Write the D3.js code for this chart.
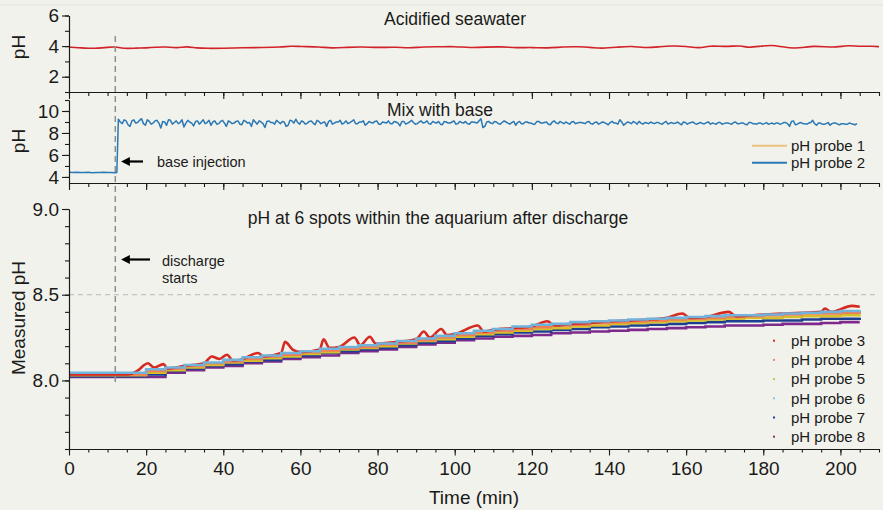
<!DOCTYPE html>
<html><head><meta charset="utf-8">
<script src="https://cdn.jsdelivr.net/npm/d3@7"></script>
<style>
html,body{margin:0;padding:0;background:#f2f2ec;}
svg{display:block;font-family:"Liberation Sans",Arial,Helvetica,sans-serif;}
</style></head>
<body>
<svg id="chart" width="883" height="510"></svg>
<script>
// ---------------- DATA ----------------
const xTicksMajor = [0,20,40,60,80,100,120,140,160,180,200];
const topYTicks = [2,4,6];
const midYTicks = [4,6,8,10];
const botYTicks = [8.0,8.5,9.0];

// Top panel: acidified seawater (pH) sampled times/values
const seaTimes  = [0,2.5,5,7.5,10,12,14,17.5,20,23,25,28,30.5,33,36,40,45,50,55,57.5,60,65,68,72,76,80,85,88,92,96,100,104,108,112,116,120,124,128,132,136,138,142,146,149,153,156,160,163.5,166,170,174.5,175.5,179,182,185,188,191,193,196,199,202,205,208.5,210];
const seaValues = [3.93,3.90,3.85,3.86,3.92,3.97,3.83,3.87,3.88,3.93,3.96,3.86,3.99,3.87,3.85,3.86,3.89,3.91,3.93,4.01,3.97,3.95,3.86,3.92,3.95,3.90,3.94,3.86,3.96,3.95,3.98,3.89,3.93,3.97,3.88,3.92,3.86,3.95,3.97,3.90,3.85,3.92,4.01,3.87,3.95,4.02,4.00,3.84,4.04,3.95,4.05,3.89,3.98,4.08,3.95,3.84,3.93,4.00,3.96,3.92,4.06,3.97,4.00,3.96];

// Middle panel: pH probe 2 (mix with base)
const preTimes  = [0,1,2,3,4,5,6,7,8,9,10,11,12,12.4];
const preValues = [4.42,4.40,4.43,4.41,4.40,4.42,4.39,4.41,4.40,4.42,4.41,4.40,4.38,4.40];
const postStartA = 12.8; // readings every minute from here
const postValuesA = [
 9.25,8.85,9.1,8.6,9.2,8.95,9.3,8.7,9.05,8.9,
 9.15,8.45,9.0,9.2,8.8,9.1,8.95,8.55,9.15,8.9,
 9.05,8.8,9.2,8.95,8.7,9.1,8.85,9.15,8.6,9.0,
 8.9,9.1,8.75,9.05,8.95,9.2,8.8,9.0,8.5,9.1,
 8.95,9.15,8.85,9.0,8.7,9.1,9.25,8.8,9.0,8.9,
 9.1,8.75,9.05,8.95,8.6,9.15,8.9,9.0,8.8,9.1,
 8.95,9.2,8.85,9.0,8.7,9.05,8.9,9.1,8.8,8.95,
 9.1,8.85,9.0,8.65,9.05,8.9,9.15,8.8,9.0,8.9,
 9.1,8.8,8.95,9.05,8.75,9.0,8.9,9.1,8.85,8.95,
 9.05,8.8,9.0,8.9,9.3,8.6,9.05,8.85,9.0,8.8,
 9.1,8.9,8.95,8.7,9.05,8.85,9.0,8.9,8.8,9.05,
 8.9,9.0,8.75,9.1,8.85,8.95,9.0,8.8,9.05,8.9,
 8.95,8.85,9.05,8.8,9.0,8.9,8.95,8.75,9.05,8.9,
 9.2,8.7,9.0,8.85,8.95,9.05,8.8,8.9,9.0,8.85,
 8.95,8.8,9.05,8.9,8.85,9.0,8.75,8.95,8.9,9.0,
 8.8,8.95,8.85,9.0,8.9,8.8,8.95,8.85,8.9,8.8,
 9.0,8.85,8.9,8.75,8.95,8.85,8.9,8.8,8.95,8.85,
 8.8,8.9,8.85,8.95,8.6,9.1,8.8,8.95,8.85,8.9,
 9.15,8.7,8.9,8.8,8.95,8.85,8.9,8.75,8.85,8.8,
 8.85,8.75];
const postStartB = 13.3; // interleaved readings, every minute from here
const postValuesB = [
 9.0,9.2,8.75,9.1,8.9,9.15,8.85,9.2,8.8,9.1,
 8.9,9.05,8.7,9.15,8.95,8.85,9.2,8.9,9.0,8.65,
 9.1,9.0,8.85,9.15,9.0,8.8,9.05,8.9,9.1,8.85,
 9.05,8.8,9.15,8.9,8.6,9.0,9.1,8.85,9.05,8.95,
 8.8,9.0,9.05,8.6,9.15,8.9,8.95,9.1,8.8,9.05,
 8.9,9.15,8.85,9.0,9.05,8.8,9.0,9.15,8.9,8.85,
 9.05,8.85,9.0,9.1,8.85,8.95,9.05,8.8,9.0,8.9,
 8.85,9.05,8.9,9.05,8.8,9.0,8.95,8.85,9.1,8.95,
 8.85,9.05,8.9,8.8,9.05,8.9,9.0,8.8,9.05,8.9,
 8.85,9.0,8.95,9.1,8.5,9.0,8.9,9.05,8.85,8.95,
 9.0,8.8,9.05,8.95,8.85,9.0,8.9,8.8,9.05,8.9,
 8.95,8.8,9.0,8.9,9.05,8.85,8.9,9.0,8.85,8.95,
 8.9,9.0,8.85,8.95,8.8,9.0,8.85,8.95,8.9,8.8,
 9.0,8.85,8.95,9.05,8.8,8.9,8.95,8.85,8.9,8.95,
 8.85,8.95,8.8,8.95,8.9,8.85,9.0,8.8,8.95,8.85,
 8.9,8.85,8.95,8.8,8.85,8.95,8.8,8.9,8.85,8.95,
 8.85,8.9,8.8,8.95,8.85,8.8,8.9,8.85,8.8,8.9,
 8.9,8.8,8.95,8.85,9.05,8.75,8.9,8.85,8.8,8.95,
 8.85,8.9,8.8,8.85,8.7,8.9,8.8,8.85,8.8,8.9,
 8.8,8.85];

// Bottom panel: probes 3-8
const gridTimes = [0,5,10,15,20,25,30,35,40,45,50,55,60,65,70,75,80,85,90,95,100,105,110,115,120,125,130,135,140,145,150,155,160,165,170,175,180,185,190,195,200,205];
const probe4 = [8.035,8.035,8.035,8.035,8.055,8.07,8.085,8.10,8.11,8.125,8.14,8.15,8.165,8.175,8.185,8.195,8.21,8.22,8.235,8.25,8.265,8.28,8.29,8.30,8.31,8.32,8.325,8.335,8.34,8.345,8.35,8.355,8.36,8.365,8.37,8.375,8.38,8.385,8.39,8.39,8.395,8.40];
const probe5 = [8.03,8.03,8.03,8.03,8.045,8.06,8.075,8.09,8.105,8.115,8.13,8.14,8.155,8.165,8.18,8.19,8.20,8.215,8.23,8.24,8.255,8.27,8.28,8.29,8.30,8.305,8.315,8.32,8.33,8.335,8.34,8.345,8.35,8.355,8.36,8.365,8.365,8.37,8.375,8.375,8.38,8.385];
const probe6 = [8.045,8.045,8.045,8.045,8.065,8.075,8.09,8.105,8.12,8.135,8.145,8.16,8.17,8.185,8.195,8.205,8.215,8.23,8.245,8.26,8.275,8.29,8.30,8.315,8.325,8.33,8.34,8.345,8.35,8.355,8.36,8.365,8.37,8.375,8.38,8.38,8.385,8.39,8.395,8.40,8.405,8.41];
const probe7 = [8.025,8.025,8.025,8.025,8.035,8.055,8.07,8.085,8.095,8.11,8.12,8.135,8.145,8.16,8.17,8.18,8.19,8.205,8.22,8.23,8.245,8.26,8.27,8.28,8.285,8.295,8.30,8.31,8.315,8.32,8.325,8.33,8.335,8.34,8.345,8.345,8.35,8.35,8.355,8.36,8.36,8.365];
const probe8 = [8.02,8.02,8.02,8.02,8.02,8.045,8.06,8.075,8.085,8.10,8.11,8.125,8.135,8.145,8.16,8.17,8.18,8.195,8.21,8.22,8.235,8.245,8.255,8.26,8.265,8.275,8.28,8.285,8.29,8.295,8.30,8.305,8.31,8.315,8.32,8.32,8.325,8.33,8.33,8.335,8.34,8.34];
const probe3Times  = [0,15,18,19.5,20.5,22,24.5,25.5,30,35,37,39,41,42.5,45,49,50.5,55,56,58,60,65,66,67.5,70,74,75.5,78,79.5,85,90,92,93.5,96.5,98,100,106,107.5,110,115,120,124,126,130,135,140,145,150,155,159,161,165,171,173,180,185,190,195,196,197.5,203,205];
const probe3Values = [8.035,8.035,8.06,8.09,8.10,8.075,8.095,8.07,8.085,8.10,8.14,8.125,8.15,8.115,8.125,8.16,8.14,8.16,8.225,8.18,8.165,8.18,8.24,8.19,8.195,8.25,8.205,8.255,8.215,8.225,8.24,8.285,8.25,8.30,8.265,8.27,8.32,8.285,8.295,8.305,8.315,8.345,8.32,8.33,8.335,8.345,8.35,8.355,8.365,8.39,8.365,8.37,8.40,8.375,8.385,8.39,8.395,8.40,8.42,8.40,8.435,8.43];

const probeNames  = ["pH probe 3","pH probe 4","pH probe 5","pH probe 6","pH probe 7","pH probe 8"];
const probeColors = ["#d42a22","#ee7f55","#d6bf2a","#72b3dc","#1d3f8f","#7d2a8c"];
const legendDotColors = ["#d42a22","#ee8a70","#c8c24a","#8cc4e0","#1d3f8f","#8a3570"];

// ---------------- DRAW ----------------
const svg = d3.select("#chart");
const ink = "#1a1a1a";
const font = "Liberation Sans, Arial, sans-serif";
const x = d3.scaleLinear().domain([0,210]).range([69,879]);
const yTop = d3.scaleLinear().domain([1,6]).range([92,15.5]);
const yMid = d3.scaleLinear().domain([3.45,11]).range([183,100]);
const yBot = d3.scaleLinear().domain([7.6,9.0]).range([449,209]);

svg.append("line").attr("x1",0).attr("x2",883).attr("y1",5).attr("y2",5).attr("stroke","#e3e3dd");

const minorX = d3.range(0,211,5);
function xAxis(y, labels){
  const gMinor = svg.append("g").attr("transform",`translate(0,${y})`)
    .call(d3.axisBottom(x).tickValues(minorX).tickSize(labels?3.5:4).tickSizeOuter(0).tickFormat(""));
  const gMajor = svg.append("g").attr("transform",`translate(0,${y})`)
    .call(d3.axisBottom(x).tickValues(xTicksMajor).tickSize(labels?6.5:7).tickSizeOuter(0).tickPadding(6)
      .tickFormat(labels? d3.format("d") : ""));
  [gMinor,gMajor].forEach(g=>{
    g.selectAll("path,line").attr("stroke",ink).attr("stroke-width",1.1);
    g.selectAll("text").attr("fill",ink).attr("font-size",19).attr("font-family",font);
  });
}
function yAxis(scale, major, minor, fmt){
  const gMinor = svg.append("g").attr("transform","translate(69,0)")
    .call(d3.axisLeft(scale).tickValues(minor).tickSize(4).tickSizeOuter(0).tickFormat(""));
  const gMajor = svg.append("g").attr("transform","translate(69,0)")
    .call(d3.axisLeft(scale).tickValues(major).tickSize(7).tickSizeOuter(0).tickPadding(3).tickFormat(fmt));
  [gMinor,gMajor].forEach(g=>{
    g.selectAll("path,line").attr("stroke",ink).attr("stroke-width",1.1);
    g.selectAll("text").attr("fill",ink).attr("font-size",19).attr("font-family",font);
  });
}

// reference line at pH 8.5
svg.append("line").attr("x1",x(0)).attr("x2",x(210)).attr("y1",yBot(8.5)).attr("y2",yBot(8.5))
  .attr("stroke","#c4c4c0").attr("stroke-width",1.2).attr("stroke-dasharray","5,4");

// Top panel series
const seaData = seaTimes.map((t,i)=>[t,seaValues[i]]);
svg.append("path").datum(seaData)
  .attr("d", d3.line().x(d=>x(d[0])).y(d=>yTop(d[1])).curve(d3.curveBasis))
  .attr("fill","none").attr("stroke","#d2222a").attr("stroke-width",1.6);

// Middle panel series (merge the two interleaved reading sets in time order)
const postData = postValuesA.map((v,i)=>[postStartA+i, v])
  .concat(postValuesB.map((v,i)=>[postStartB+i, v]))
  .sort((a,b)=>a[0]-b[0]);
const blueData = preTimes.map((t,i)=>[t,preValues[i]]).concat(postData);
svg.append("path").datum(blueData)
  .attr("d", d3.line().x(d=>x(d[0])).y(d=>yMid(d[1])))
  .attr("fill","none").attr("stroke","#2a78b4").attr("stroke-width",1.5).attr("stroke-linejoin","round");

// Bottom panel series
const gridSeries = {4:probe4,5:probe5,6:probe6,7:probe7,8:probe8};
const stepLine = d3.line().x(d=>x(d[0])).y(d=>yBot(d[1])).curve(d3.curveStepAfter);
const bumpLine = d3.line().x(d=>x(d[0])).y(d=>yBot(d[1])).curve(d3.curveMonotoneX);
const order = [8,7,5,4,3,6];
order.forEach(p=>{
  const data = p===3 ? probe3Times.map((t,i)=>[t,probe3Values[i]])
                     : gridTimes.map((t,i)=>[t,gridSeries[p][i]]);
  svg.append("path").datum(data).attr("d", p===3 ? bumpLine : stepLine)
    .attr("fill","none").attr("stroke",probeColors[p-3]).attr("stroke-width",2.6);
});

// Axes
xAxis(92,false); xAxis(183,false); xAxis(449,true);
yAxis(yTop, topYTicks, [1,2,3,4,5,6], d3.format("d"));
yAxis(yMid, midYTicks, [4,5,6,7,8,9,10,11], d3.format("d"));
yAxis(yBot, botYTicks, d3.range(76,91).map(d=>d/10), d3.format(".1f"));

// vertical dashed line at injection / discharge
svg.append("line").attr("x1",x(12)).attr("x2",x(12)).attr("y1",36).attr("y2",383)
  .attr("stroke","#8e8e8e").attr("stroke-width",1.5).attr("stroke-dasharray","6,4");

// Axis titles
function rotLabel(txt, y){
  svg.append("text").attr("transform",`translate(25,${y}) rotate(-90)`).attr("text-anchor","middle")
    .attr("font-size",19).attr("fill",ink).attr("font-family",font).text(txt);
}
rotLabel("pH",47); rotLabel("pH",141); rotLabel("Measured pH",318);
svg.append("text").attr("x",474).attr("y",504).attr("text-anchor","middle").attr("font-size",19)
  .attr("fill",ink).attr("font-family",font).text("Time (min)");

// Panel titles
[["Acidified seawater",455,25],["Mix with base",440,116],["pH at 6 spots within the aquarium after discharge",438,224]]
 .forEach(([t,cx,cy])=>svg.append("text").attr("x",cx).attr("y",cy).attr("text-anchor","middle")
   .attr("font-size",17.5).attr("fill",ink).attr("font-family",font).text(t));

// Arrows + annotations
svg.append("defs").append("marker").attr("id","ah").attr("viewBox","0 0 10 10").attr("refX",1).attr("refY",5)
  .attr("markerWidth",4).attr("markerHeight",4).attr("orient","auto-start-reverse")
  .append("path").attr("d","M0,0L10,5L0,10z").attr("fill","#000");
function arrow(x1,x2,y){
  svg.append("line").attr("x1",x2).attr("x2",x1+4).attr("y1",y).attr("y2",y)
    .attr("stroke","#000").attr("stroke-width",2.2).attr("marker-end","url(#ah)");
}
arrow(125,143,161.5);
svg.append("text").attr("x",157).attr("y",166.5).attr("font-size",14.5).attr("fill",ink).attr("font-family",font).text("base injection");
arrow(125,150,259.5);
svg.append("text").attr("x",162).attr("y",266).attr("font-size",14.5).attr("fill",ink).attr("font-family",font).text("discharge");
svg.append("text").attr("x",162).attr("y",282.5).attr("font-size",14.5).attr("fill",ink).attr("font-family",font).text("starts");

// Legend middle
[["pH probe 1","#eac27f",145.7],["pH probe 2","#2a78b4",162.8]].forEach(([t,c,y])=>{
  svg.append("line").attr("x1",752).attr("x2",787).attr("y1",y).attr("y2",y).attr("stroke",c).attr("stroke-width",2);
  svg.append("text").attr("x",791).attr("y",y+5.3).attr("font-size",15).attr("fill",ink).attr("font-family",font).text(t);
});
// Legend bottom
probeNames.forEach((n,i)=>{
  const y = 340.7 + i*19.2;
  svg.append("rect").attr("x",773).attr("y",y-1).attr("width",2).attr("height",2).attr("fill",legendDotColors[i]);
  svg.append("text").attr("x",791).attr("y",y+5.3).attr("font-size",15).attr("fill",ink).attr("font-family",font).text(n);
});
</script>
</body></html>
